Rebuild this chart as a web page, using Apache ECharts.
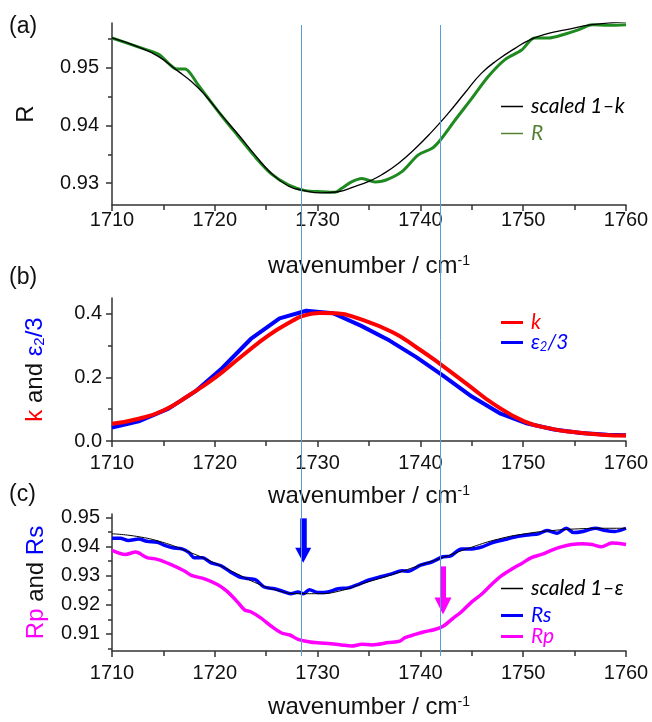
<!DOCTYPE html>
<html><head><meta charset="utf-8">
<script src="https://cdn.jsdelivr.net/npm/echarts@6/dist/echarts.min.js"></script>
<style>html,body{margin:0;padding:0;background:#fff}#c{width:652px;height:722px}</style>
</head><body><div id="c"></div>
<script>
// ---------- DATA ----------
// panel (a)
const aScaledX = [1710,1712.6,1714.5,1716.45,1717.75,1719.04,1720.66,1722.3,1723.9,1725.5,1727.15,1728.45,1730.4,1732.0,1733.6,1735.1,1736.2,1737.85,1739.5,1741.1,1742.7,1744.3,1745.95,1747.6,1749.2,1750.8,1752.45,1754.1,1756.7,1760];
const aScaledY = [0.9552,0.9536,0.9520,0.9494,0.9476,0.9453,0.9418,0.9384,0.9349,0.9317,0.9295,0.9288,0.9283,0.9285,0.9294,0.9304,0.9314,0.9334,0.9360,0.9389,0.9421,0.9456,0.9491,0.9515,0.9534,0.9550,0.9560,0.9566,0.9575,0.9580];
const aRX = [1710,1712.6,1714.5,1715.5,1716.3,1717.1,1717.6,1718.4,1719.04,1720.66,1722.3,1723.9,1725.5,1727.15,1728.8,1730.4,1731.7,1732.35,1733.3,1734.3,1735.6,1736.6,1738.2,1739.8,1741.1,1741.9,1743.4,1745.0,1746.6,1748.2,1749.85,1751.1,1752.45,1754.1,1755.35,1756.7,1758.3,1760];
const aRY = [0.9552,0.9536,0.9524,0.9508,0.9498,0.9498,0.9491,0.9470,0.9455,0.9417,0.9381,0.9346,0.9316,0.9297,0.9287,0.9285,0.9284,0.9291,0.9302,0.9308,0.9302,0.9305,0.9320,0.9349,0.9360,0.9374,0.9410,0.9447,0.9485,0.9514,0.9531,0.9552,0.9552,0.9559,0.9566,0.9575,0.9574,0.9575];
// panel (b)
const bKX = [1710,1712.6,1715.0,1717.5,1720.1,1722.7,1725.3,1727.6,1728.5,1730.2,1731.8,1734.1,1737.3,1739.6,1741.9,1744.5,1747.1,1750.1,1752.7,1754.9,1757.6,1760];
const bKY = [0.054,0.070,0.096,0.144,0.201,0.269,0.334,0.379,0.393,0.403,0.402,0.384,0.342,0.295,0.243,0.180,0.117,0.062,0.039,0.028,0.020,0.017];
const bEX = [1710,1712.7,1715.5,1718.1,1720.7,1723.5,1726.3,1728.9,1731.5,1734.2,1737.0,1739.6,1742.2,1745.0,1747.8,1750.4,1753.0,1755.6,1758.2,1760];
const bEY = [0.042,0.063,0.102,0.156,0.229,0.321,0.386,0.410,0.402,0.363,0.316,0.264,0.206,0.140,0.086,0.055,0.036,0.025,0.020,0.018];
// panel (c)
const cScaledX = [1710,1712.4,1714.9,1717.3,1719.9,1722.2,1724.2,1726.1,1728.1,1730.0,1732.0,1734.6,1737.2,1739.8,1742.4,1745.0,1747.6,1750.2,1752.8,1755.4,1758.0,1760];
const cScaledY = [0.9444,0.9435,0.9415,0.9384,0.9345,0.9306,0.9272,0.9249,0.9238,0.9238,0.9246,0.9275,0.9303,0.9334,0.9365,0.9398,0.9426,0.9444,0.9455,0.9461,0.9463,0.9463];
const cRsX = [1710,1710.8,1711.6,1712.6,1713.4,1714.4,1715.2,1715.9,1716.8,1717.5,1718.0,1718.8,1719.6,1720.6,1721.6,1722.5,1723.5,1724.0,1724.8,1725.8,1726.8,1727.4,1728.1,1728.6,1729.2,1730.0,1731.0,1732.0,1733.0,1734.1,1735.0,1735.9,1737.2,1738.2,1738.8,1740.0,1741.1,1742.2,1742.9,1744.0,1745.0,1746.0,1747.1,1748.2,1749.2,1750.5,1751.5,1752.3,1753.3,1754.2,1754.9,1755.8,1757.0,1758.0,1758.9,1760];
const cRsY = [0.9429,0.9429,0.9421,0.9426,0.9418,0.9415,0.9403,0.9396,0.9392,0.9379,0.9362,0.9362,0.9345,0.9334,0.9311,0.9294,0.9289,0.9285,0.9261,0.9255,0.9244,0.9238,0.9244,0.9238,0.9252,0.9242,0.9244,0.9255,0.9258,0.9272,0.9285,0.9294,0.9306,0.9317,0.9315,0.9336,0.9347,0.9365,0.9367,0.9392,0.9392,0.9399,0.9415,0.9424,0.9433,0.9440,0.9444,0.9455,0.9446,0.9463,0.9448,0.9452,0.9463,0.9455,0.9452,0.9463];
const cRpX = [1710,1711.3,1712.3,1713.4,1714.4,1715.7,1717.0,1717.8,1719.0,1720.3,1721.2,1722.2,1722.9,1723.5,1724.5,1725.5,1726.5,1727.3,1728.1,1729.1,1730.0,1731.3,1732.3,1733.3,1734.3,1735.3,1736.9,1738.0,1738.5,1739.5,1740.4,1741.4,1742.2,1743.2,1744.0,1745.0,1746.0,1746.9,1747.9,1748.9,1749.9,1750.8,1751.8,1752.8,1753.7,1754.7,1755.7,1756.7,1757.6,1758.6,1760];
const cRpY = [0.9387,0.9373,0.9381,0.9362,0.9356,0.9339,0.9317,0.9300,0.9289,0.9269,0.9246,0.9210,0.9182,0.9176,0.9154,0.9126,0.9103,0.9096,0.9081,0.9073,0.9069,0.9066,0.9062,0.9058,0.9064,0.9062,0.9070,0.9075,0.9087,0.9098,0.9107,0.9115,0.9126,0.9154,0.9176,0.9210,0.9238,0.9269,0.9300,0.9323,0.9343,0.9362,0.9373,0.9388,0.9399,0.9407,0.9410,0.9407,0.9399,0.9412,0.9407];
// markers
const vLines = [1728.45, 1741.9];
const arrowX = [1728.6, 1742.2];
const arrowFrom = [0.9497, 0.9332];
const arrowTo = [0.9370, 0.9196];
// tick values
const xTicks = {min:1710, max:1760, step:10};
const aMajor = [0.93,0.94,0.95], aMinor = [0.935,0.945,0.955];
const bMajor = [0,0.2,0.4], bMinor = [0.1,0.3];
const cMajor = [0.91,0.92,0.93,0.94,0.95], cMinor = [0.905,0.915,0.925,0.935,0.945];

// ---------- CHART ----------
const FONT = 'Liberation Sans';
const TXT = '#111';
const AX = '#333';
const TICKFS = 20;
const zip = (xs, ys) => xs.map((x, i) => [x, ys[i]]);
const grids = [
  {left:112, right:26, top:23, height:182},
  {left:112, right:26, top:298, height:143},
  {left:112, right:26, top:514, height:141},
  {left:112, right:26, top:25, height:631}
];
function xAx(g, margin, gap) {
  return {
    type:'value', gridIndex:g, min:xTicks.min, max:xTicks.max, interval:xTicks.step,
    name:'{n|wavenumber / cm}{s|-1}', nameLocation:'middle', nameGap:gap,
    nameTextStyle:{rich:{
      n:{fontFamily:FONT, fontSize:24, color:TXT, lineHeight:24, verticalAlign:'bottom'},
      s:{fontFamily:FONT, fontSize:14, color:TXT, lineHeight:14, verticalAlign:'top', padding:[0,0,12,0]}
    }},
    axisLine:{onZero:false, lineStyle:{color:AX, width:1.5}},
    axisTick:{length:6, lineStyle:{color:AX, width:1.5}},
    minorTick:{show:true, splitNumber:2, length:5, lineStyle:{color:AX, width:1.5}},
    splitLine:{show:false}, minorSplitLine:{show:false},
    axisLabel:{margin:margin, fontFamily:FONT, fontSize:TICKFS, color:TXT, formatter: v => String(v)}
  };
}
function yAx(g, min, max, majors, digits, name, rich, gap, margin) {
  return {
    type:'value', gridIndex:g, min:min, max:max, position:'left',
    name:name, nameLocation:'middle', nameGap:gap, nameRotate:90,
    nameTextStyle:{fontFamily:FONT, fontSize:24, color:TXT, rich:rich},
    axisLine:{onZero:false, lineStyle:{color:AX, width:1.5}},
    axisTick:{length:6, customValues:majors, lineStyle:{color:AX, width:1.5}},
    splitLine:{show:false},
    axisLabel:{margin:margin, customValues:majors, fontFamily:FONT, fontSize:TICKFS, color:TXT,
      formatter: v => Number(v).toFixed(digits)}
  };
}
function yMinor(g, min, max, minors) {
  return {
    type:'value', gridIndex:g, min:min, max:max, position:'left',
    axisLine:{show:false, onZero:false}, splitLine:{show:false},
    axisLabel:{show:false},
    axisTick:{show:true, length:4, customValues:minors, lineStyle:{color:AX, width:1.5}}
  };
}
const nameRich = () => ({
  k:{fontFamily:FONT, fontSize:24, color:TXT, lineHeight:24, verticalAlign:'top'},
  r:{fontFamily:FONT, fontSize:24, color:'#ff0000', lineHeight:24, verticalAlign:'top'},
  b:{fontFamily:FONT, fontSize:24, color:'#0000ff', lineHeight:24, verticalAlign:'top'},
  m:{fontFamily:FONT, fontSize:24, color:'#ff00ff', lineHeight:24, verticalAlign:'top'},
  bs:{fontFamily:FONT, fontSize:15, color:'#0000ff', lineHeight:15, verticalAlign:'bottom', padding:[12,0,0,0]}
});

const yAxes = [
  yAx(0, 0.9262, 0.9578, aMajor, 2, 'R', undefined, 74, 13),
  yMinor(0, 0.9262, 0.9578, aMinor),
  yAx(1, 0, 0.45, bMajor, 1, '{r|k}{k| and }{b|ε}{bs|2}{b|/3}', nameRich(), 65, 10),
  yMinor(1, 0, 0.45, bMinor),
  yAx(2, 0.9041, 0.9512, cMajor, 2, '{m|Rp}{k| and }{b|Rs}', nameRich(), 64, 12),
  yMinor(2, 0.9041, 0.9512, cMinor),
  {type:'value', gridIndex:3, min:0, max:1, show:false}
];
const xAxes = [xAx(0, 5, 49), xAx(1, 12, 43), xAx(2, 12, 44),
  {type:'value', gridIndex:3, min:xTicks.min, max:xTicks.max, show:false}];

const LEG = {fontFamily:'Lato', fontStyle:'italic', fontSize:21};
function leg(name, top, color, lw, extra) {
  return Object.assign({
    show:true, data:[name], left:501, top:top, padding:0, itemWidth:22, itemHeight:lw,
    icon:'rect', selectedMode:false,
    itemStyle:{color:color, borderWidth:0},
    textStyle:Object.assign({color:color, padding:[0,0,0,3]}, LEG)
  }, extra || {});
}
const legends = [
  leg('scaled 1–k', 96, '#000', 1.5),
  leg('R', 123, '#548235', 1.5),
  leg('k', 312, '#ff0000', 3),
  leg('ε2/3', 330, '#0000ff', 3, {
    formatter: () => '{e|ε}{s|2}{e|/3}',
    textStyle:Object.assign({color:'#0000ff', padding:[0,0,0,3], rich:{
      e:Object.assign({color:'#0000ff', lineHeight:21, verticalAlign:'top'}, LEG),
      s:Object.assign({color:'#0000ff', lineHeight:13, verticalAlign:'bottom', padding:[10,0,0,0]}, LEG, {fontSize:13})
    }}, LEG)
  }),
  leg('scaled 1–ε', 578, '#000', 1.5),
  leg('Rs', 605, '#0000ff', 3),
  leg('Rp', 626, '#ff00ff', 3)
];

function line(name, xi, yi, data, color, width, smooth, z) {
  return {name:name, type:'line', xAxisIndex:xi, yAxisIndex:yi, data:data, symbol:'none',
    smooth:smooth, z:z||2, lineStyle:{color:color, width:width}, itemStyle:{color:color},
    emphasis:{disabled:true}};
}
const series = [
  line('R', 0, 0, zip(aRX, aRY), '#1f8a1f', 3, 0.3),
  line('scaled 1–k', 0, 0, zip(aScaledX, aScaledY), '#000', 1.3, true, 3),
  line('ε2/3', 1, 2, zip(bEX, bEY), '#0000ff', 4, false),
  line('k', 1, 2, zip(bKX, bKY), '#ff0000', 4, true, 3),
  line('Rp', 2, 4, zip(cRpX, cRpY), '#ff00ff', 3.5, 0.3),
  line('Rs', 2, 4, zip(cRsX, cRsY), '#0000ff', 3.5, 0.3, 3),
  line('scaled 1–ε', 2, 4, zip(cScaledX, cScaledY), '#000', 1, true, 4),
  {type:'line', xAxisIndex:2, yAxisIndex:4, data:[], z:5, silent:true,
    markLine:{silent:true, animation:false, symbol:['none','triangle'], label:{show:false},
      data:[
        [{coord:[arrowX[0], arrowFrom[0]], lineStyle:{color:'#0000ff', width:6.5, type:'solid'}, itemStyle:{color:'#0000ff'}},
         {coord:[arrowX[0], arrowTo[0]], symbolSize:[16,15]}],
        [{coord:[arrowX[1], arrowFrom[1]], lineStyle:{color:'#ff00ff', width:5, type:'solid'}, itemStyle:{color:'#ff00ff'}},
         {coord:[arrowX[1], arrowTo[1]], symbolSize:[17,17]}]
      ]}},
  {type:'line', xAxisIndex:3, yAxisIndex:6, data:[], z:10, silent:true,
    markLine:{silent:true, animation:false, symbol:['none','none'], label:{show:false},
      lineStyle:{color:'#5b9bd5', width:1, type:'solid'},
      data: vLines.map(v => ({xAxis:v}))}}
];

const chart = echarts.init(document.getElementById('c'), null, {renderer:'canvas'});
chart.setOption({
  animation:false,
  backgroundColor:'#fff',
  grid:grids, xAxis:xAxes, yAxis:yAxes, legend:legends, series:series,
  graphic:[
    {type:'text', left:9, top:15, style:{text:'(a)', font:'23px "Liberation Sans"', fill:TXT}},
    {type:'text', left:9, top:266, style:{text:'(b)', font:'23px "Liberation Sans"', fill:TXT}},
    {type:'text', left:9, top:483, style:{text:'(c)', font:'23px "Liberation Sans"', fill:TXT}}
  ]
});
</script></body></html>
